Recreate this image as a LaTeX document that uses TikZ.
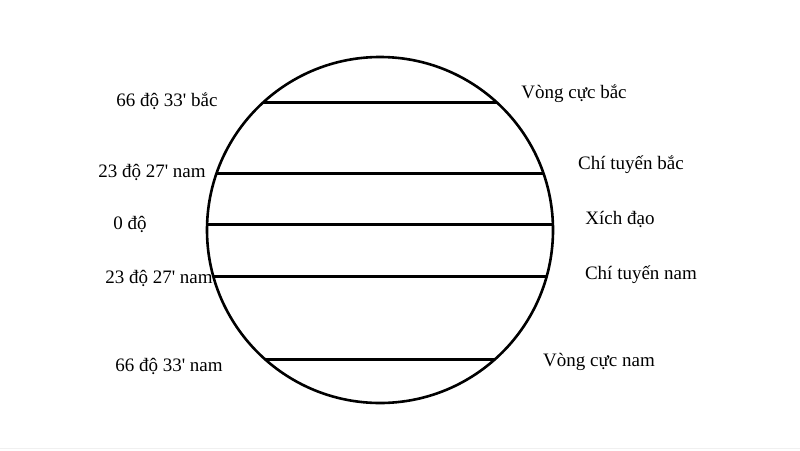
\documentclass[tikz,border=0pt]{standalone}
\usepackage{fontspec}
\setmainfont{Liberation Serif}
\newcommand{\minute}{\textquotesingle}
\begin{document}
\begin{tikzpicture}[x=1pt,y=-1pt]
  \pgfmathsetmacro{\cx}{380}
  \pgfmathsetmacro{\cy}{230}
  \pgfmathsetmacro{\rayon}{173}
  \tikzset{trait/.style={line width=2.6pt},
    etiquette/.style={font=\fontsize{19}{22}\selectfont,inner sep=0pt}}
  \useasboundingbox (0,0) rectangle (800,450);
  \draw[gray!12,line width=1pt] (0,448) -- (800,448);
  \draw[trait] (\cx,\cy) circle (\rayon);
  \foreach \y in {102.7,173.5,224.3,276.7,359.5} {
    \pgfmathsetmacro{\demi}{10*sqrt(((\rayon-\y+\cy)/10)*((\rayon+\y-\cy)/10))}
    \draw[trait] (\cx-\demi,\y) -- (\cx+\demi,\y);
  }
  \node[etiquette] (n66b) at (167,101) {66 độ 33\minute{} bắc};
  \node[etiquette] (n23b) at (152,172.5) {23 độ 27\minute{} nam};
  \node[etiquette] (n0) at (130,224.5) {0 độ};
  \node[etiquette] (n23s) at (159,278.5) {23 độ 27\minute{} nam};
  \node[etiquette] (n66s) at (169,366) {66 độ 33\minute{} nam};
  \node[etiquette] (vcb) at (574,93.5) {Vòng cực bắc};
  \node[etiquette] (ctb) at (631,164.5) {Chí tuyến bắc};
  \node[etiquette] (xd) at (620,219.5) {Xích đạo};
  \node[etiquette] (ctn) at (641,274.5) {Chí tuyến nam};
  \node[etiquette] (vcn) at (599,362) {Vòng cực nam};
\end{tikzpicture}
\end{document}
